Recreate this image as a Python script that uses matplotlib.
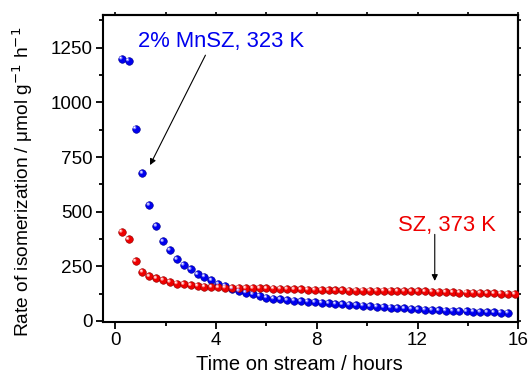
import matplotlib
matplotlib.use("Agg")
import matplotlib.pyplot as plt
import matplotlib.transforms as mtransforms
import numpy as np

plt.rcParams['font.family'] = ['Liberation Sans', 'DejaVu Sans']
plt.rcParams['mathtext.fontset'] = 'custom'
plt.rcParams['mathtext.rm'] = 'Liberation Sans'
plt.rcParams['mathtext.it'] = 'Liberation Sans'

# ---- data ----
time_h = [0.26, 0.53, 0.81, 1.08, 1.35, 1.63, 1.90, 2.17, 2.45, 2.72,
          3.00, 3.27, 3.54, 3.82, 4.09, 4.36, 4.64, 4.91, 5.18, 5.46,
          5.73, 6.00, 6.28, 6.55, 6.82, 7.10, 7.37, 7.64, 7.92, 8.19,
          8.47, 8.74, 9.01, 9.29, 9.56, 9.83, 10.11, 10.38, 10.65, 10.93,
          11.20, 11.47, 11.75, 12.02, 12.29, 12.57, 12.84, 13.11, 13.39, 13.66,
          13.94, 14.21, 14.48, 14.76, 15.03, 15.30, 15.58, 15.85]

mnsz_rate = [1199, 1191, 880, 676, 530, 434, 364, 324, 282, 256,
             236, 213, 203, 186, 169, 160, 148, 137, 130, 122,
             114, 107, 102, 99, 95, 93, 90, 88, 86, 83,
             81, 78, 76, 74, 72, 70, 67, 65, 63, 61,
             59, 57, 55, 53, 51, 50, 48, 47, 46, 45,
             44, 43, 41, 40, 39, 38, 37]

sz_rate = [407, 373, 273, 224, 204, 195, 187, 178, 171, 168,
           163, 160, 157, 155, 153, 152, 151, 151, 150, 150,
           150, 149, 148, 147, 146, 145, 144, 143, 142, 141,
           141, 140, 140, 139, 139, 139, 138, 138, 138, 138,
           137, 137, 136, 136, 135, 134, 133, 132, 131, 130,
           130, 129, 128, 127, 126, 125, 124, 123]

mnsz_label = "2% MnSZ, 323 K"
sz_label = "SZ, 373 K"

# ---- figure ----
fig = plt.figure(figsize=(5.29, 3.74), dpi=100)
ax = fig.add_axes([0.194, 0.139, 0.786, 0.821])

def ball_scatter(x, y, base, edge, light):
    ax.scatter(x, y, s=30, color=base, edgecolors=edge, linewidths=0.4, zorder=3)
    off = mtransforms.offset_copy(ax.transData, fig=fig, x=-1.0, y=1.0, units='dots')
    ax.scatter(x, y, s=6, color=light, edgecolors='none', zorder=4, transform=off)
    off2 = mtransforms.offset_copy(ax.transData, fig=fig, x=-1.2, y=1.2, units='dots')
    ax.scatter(x, y, s=1.2, color='white', edgecolors='none', zorder=5, transform=off2)

ball_scatter(time_h[:len(mnsz_rate)], mnsz_rate, '#0000ee', '#00008a', '#8080ff')
ball_scatter(time_h[:len(sz_rate)], sz_rate, '#ee0000', '#8a0000', '#ff8a8a')

ax.set_xlim(-0.5, 16)
ax.set_ylim(-5, 1400)

ax.set_xticks([0, 4, 8, 12, 16])
ax.set_xticks([2, 6, 10, 14], minor=True)
ax.set_yticks([0, 250, 500, 750, 1000, 1250])
ax.set_yticks([125, 375, 625, 875, 1125, 1375], minor=True)

for s in ax.spines.values():
    s.set_linewidth(1.5)

ax.tick_params(axis='both', which='major', direction='out', length=5, width=1.3,
               labelsize=13.6, pad=2)
ax.tick_params(axis='both', which='minor', direction='out', length=3, width=1.3)

secx = ax.secondary_xaxis('top')
secx.set_xticks([0, 4, 8, 12, 16])
secx.set_xticks([2, 6, 10, 14], minor=True)
secx.tick_params(which='both', direction='out', length=2, width=1.2, labeltop=False)
secx.spines['top'].set_linewidth(1.5)
secy = ax.secondary_yaxis('right')
secy.set_yticks([0, 250, 500, 750, 1000, 1250])
secy.set_yticks([125, 375, 625, 875, 1125, 1375], minor=True)
secy.tick_params(which='both', direction='out', length=2, width=1.2, labelright=False)
secy.spines['right'].set_linewidth(1.5)

ax.set_xlabel("Time on stream / hours", fontsize=14.5)
ax.xaxis.set_label_coords(0.474, -0.108)
ax.set_ylabel("Rate of isomerization / \u03bcmol g$^{\\mathsf{-1}}$ h$^{\\mathsf{-1}}$",
              fontsize=13.8)
ax.yaxis.set_label_coords(-0.163, 0.455)

ax.text(0.90, 1252, mnsz_label, color='#0000ee', fontsize=15.8, va='baseline', ha='left')
ax.text(11.23, 411, sz_label, color='#ee0000', fontsize=15.8, va='baseline', ha='left')

ax.annotate("", xy=(1.38, 713), xytext=(3.58, 1216),
            arrowprops=dict(arrowstyle='-|>', color='black', lw=0.8,
                            mutation_scale=9, shrinkA=0, shrinkB=0))
ax.annotate("", xy=(12.68, 183), xytext=(12.68, 396),
            arrowprops=dict(arrowstyle='-|>', color='black', lw=0.8,
                            mutation_scale=9, shrinkA=0, shrinkB=0))

fig.savefig("out.png", dpi=100)
